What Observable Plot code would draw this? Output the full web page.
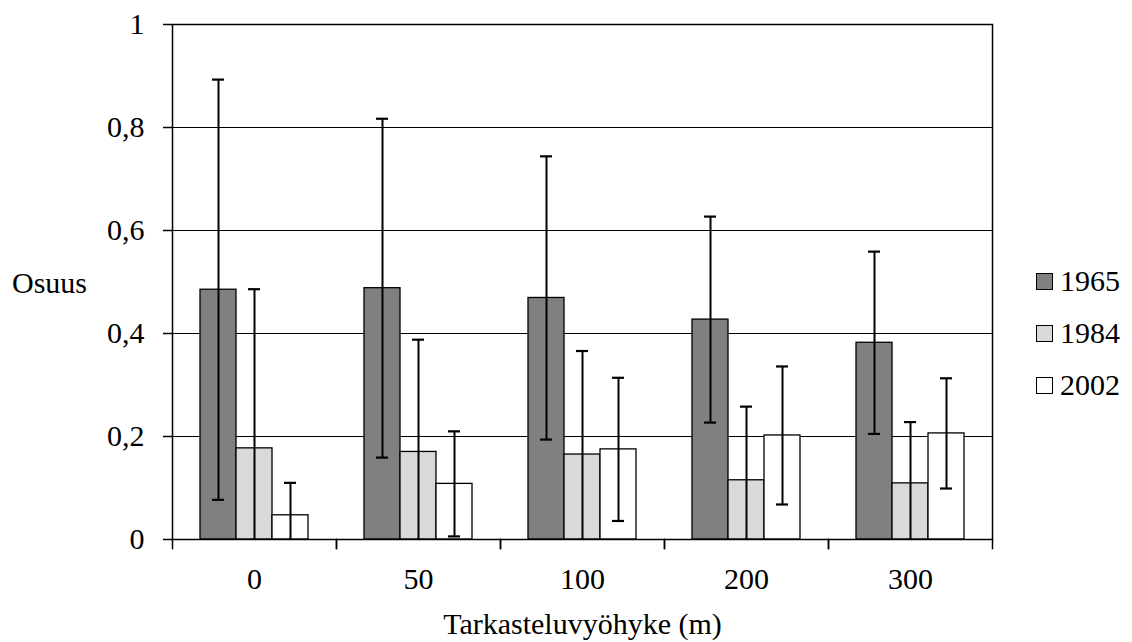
<!DOCTYPE html>
<html>
<head>
<meta charset="utf-8">
<script src="https://cdn.jsdelivr.net/npm/d3@7"></script>
<script src="https://cdn.jsdelivr.net/npm/@observablehq/plot@0.6"></script>
<style>
  html, body { margin: 0; padding: 0; background: #fff; }
  #wrap { position: relative; width: 1132px; height: 642px; font-family: "Liberation Serif", "Times New Roman", "DejaVu Serif", serif; color: #000; }
  #ylab { position: absolute; left: 12px; top: 264px; font-size: 30px; line-height: 38px; }
  #legend { position: absolute; left: 1036px; top: 255px; font-size: 30px; }
  .row { display: flex; align-items: center; height: 52px; }
  .sw { width: 15px; height: 15px; border: 1.3px solid #000; margin-right: 7px; box-sizing: content-box; }
  svg text { font-family: "Liberation Serif", "Times New Roman", "DejaVu Serif", serif; }
</style>
</head>
<body>
<div id="wrap"></div>
<script>
const zones = ["0", "50", "100", "200", "300"];
const years = ["1965", "1984", "2002"];
const colors = ["#808080", "#d9d9d9", "#ffffff"];
const mean1965 = [0.485, 0.488, 0.469, 0.427, 0.382];
const err1965  = [0.408, 0.329, 0.275, 0.200, 0.177];
const mean1984 = [0.177, 0.170, 0.165, 0.115, 0.109];
const err1984  = [0.309, 0.218, 0.201, 0.143, 0.119];
const mean2002 = [0.047, 0.108, 0.175, 0.202, 0.206];
const err2002  = [0.063, 0.102, 0.139, 0.134, 0.107];
const yTicks = [0, 0.2, 0.4, 0.6, 0.8, 1];

const means = [mean1965, mean1984, mean2002];
const errs = [err1965, err1984, err2002];
const data = [];
zones.forEach((z, i) => years.forEach((yr, j) => {
  data.push({zone: z, year: yr, value: means[j][i], lo: means[j][i] - errs[j][i], hi: means[j][i] + errs[j][i]});
}));

const fmt = d => String(d).replace(".", ",");
const serif = '"Liberation Serif", "Times New Roman", "DejaVu Serif", serif';

const chart = Plot.plot({
  width: 1132,
  height: 642,
  marginLeft: 171,
  marginRight: 139,
  marginTop: 24,
  marginBottom: 103,
  style: {fontSize: "30px", fontFamily: serif, color: "#000", background: "#fff"},
  fx: {domain: zones, padding: 0, label: "Tarkasteluvyöhyke (m)", labelOffset: 94, tickSize: 0, tickPadding: 28},
  x: {domain: years, paddingInner: 0, paddingOuter: 0.754, axis: null},
  y: {domain: [0, 1], label: null},
  color: {domain: years, range: colors},
  marks: [
    Plot.gridY(yTicks, {stroke: "#000", strokeOpacity: 1, strokeWidth: 1.2}),
    Plot.barY(data, {fx: "zone", x: "year", y: "value", fill: "year", stroke: "#000", strokeWidth: 1.3}),
    Plot.ruleX(data, {fx: "zone", x: "year", y1: "lo", y2: "hi", stroke: "#000", strokeWidth: 2, clip: true}),
    Plot.tickY(data, {fx: "zone", x: "year", y: "hi", stroke: "#000", strokeWidth: 2.2, insetLeft: 12, insetRight: 12, clip: true}),
    Plot.tickY(data, {fx: "zone", x: "year", y: "lo", stroke: "#000", strokeWidth: 2.2, insetLeft: 12, insetRight: 12, clip: true}),
    Plot.axisY({ticks: yTicks, tickFormat: fmt, tickSize: 9, tickPadding: 19, strokeWidth: 1.5, label: null}),
    Plot.frame({anchor: "left", insetTop: 515, insetBottom: -9, stroke: "#000", strokeWidth: 1.5}),
    Plot.frame({anchor: "right", insetTop: 515, insetBottom: -9, stroke: "#000", strokeWidth: 1.5}),
    Plot.frame({facet: "super", stroke: "#000", strokeWidth: 1.5})
  ]
});

const wrap = document.getElementById("wrap");
wrap.appendChild(chart);

const ylab = document.createElement("div");
ylab.id = "ylab";
ylab.textContent = "Osuus";
wrap.appendChild(ylab);

const legend = document.createElement("div");
legend.id = "legend";
years.forEach((yr, j) => {
  const row = document.createElement("div");
  row.className = "row";
  const sw = document.createElement("div");
  sw.className = "sw";
  sw.style.background = colors[j];
  const t = document.createElement("span");
  t.textContent = yr;
  row.appendChild(sw);
  row.appendChild(t);
  legend.appendChild(row);
});
wrap.appendChild(legend);
</script>
</body>
</html>
